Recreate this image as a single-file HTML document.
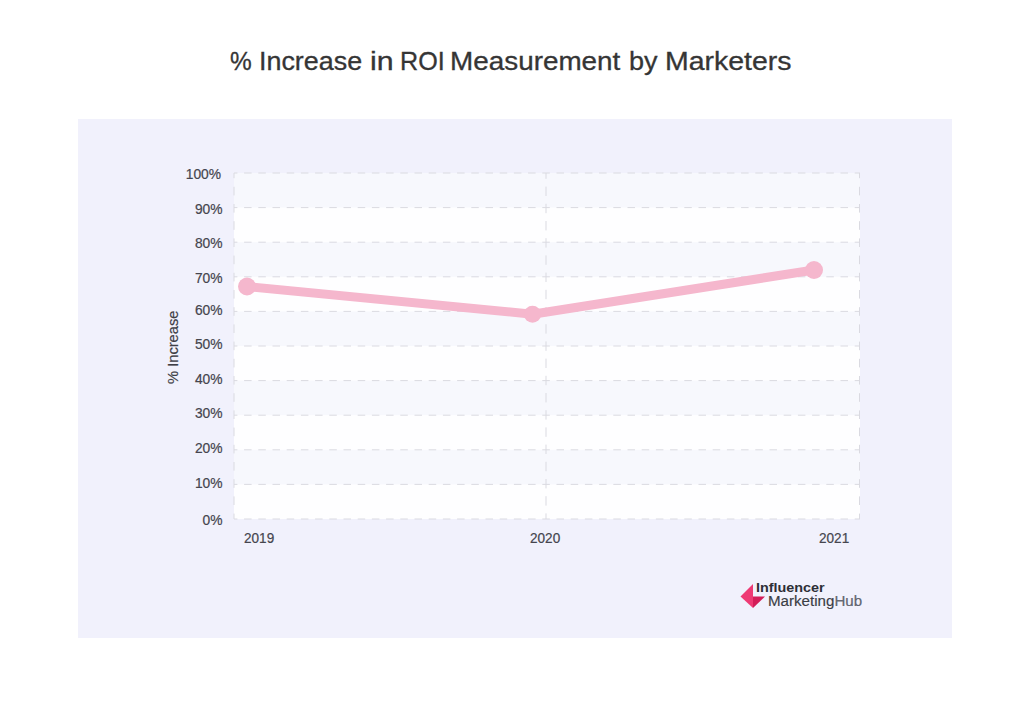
<!DOCTYPE html>
<html><head><meta charset="utf-8">
<style>
html,body{margin:0;padding:0;background:#fff;width:1024px;height:706px;overflow:hidden;}
body{position:relative;font-family:"Liberation Sans",sans-serif;}
.t{position:absolute;white-space:nowrap;line-height:1;}
.tw{position:absolute;top:48.5px;font-size:25px;color:#353535;transform-origin:0 0;-webkit-text-stroke:0.3px #353535;white-space:nowrap;line-height:1;}
.yl{position:absolute;right:801.5px;font-size:13.8px;color:#45454e;-webkit-text-stroke:0.2px #45454e;line-height:1;white-space:nowrap;}
.xl{position:absolute;font-size:14px;color:#45454e;line-height:1;white-space:nowrap;transform:scaleX(0.97);transform-origin:0 0;-webkit-text-stroke:0.2px #45454e;}
</style></head>
<body>
<svg width="1024" height="706" style="position:absolute;left:0;top:0">
  <rect x="78" y="119" width="874" height="519" fill="#f1f1fc"/>
  <!-- bands -->
  <rect x="234" y="173" width="626" height="346" fill="#fefeff"/>
  <rect x="234" y="173" width="626" height="34.6" fill="#f7f8fd"/>
  <rect x="234" y="242.2" width="626" height="34.6" fill="#f7f8fd"/>
  <rect x="234" y="311.4" width="626" height="34.6" fill="#f7f8fd"/>
  <rect x="234" y="380.6" width="626" height="34.6" fill="#f7f8fd"/>
  <rect x="234" y="449.8" width="626" height="34.6" fill="#f7f8fd"/>
  <g stroke="#dadae1" stroke-width="1" fill="none">
  <g stroke-dasharray="7.5 6.7" stroke-dashoffset="4.1">
    <line x1="234" y1="173.0" x2="860" y2="173.0"/>
    <line x1="234" y1="207.6" x2="860" y2="207.6"/>
    <line x1="234" y1="242.2" x2="860" y2="242.2"/>
    <line x1="234" y1="276.8" x2="860" y2="276.8"/>
    <line x1="234" y1="311.4" x2="860" y2="311.4"/>
    <line x1="234" y1="346.0" x2="860" y2="346.0"/>
    <line x1="234" y1="380.6" x2="860" y2="380.6"/>
    <line x1="234" y1="415.2" x2="860" y2="415.2"/>
    <line x1="234" y1="449.8" x2="860" y2="449.8"/>
    <line x1="234" y1="484.4" x2="860" y2="484.4"/>
    <line x1="234" y1="519.0" x2="860" y2="519.0"/>
  </g>
  <g stroke-dasharray="8.6 8.6" stroke-dashoffset="3.4">
    <line x1="234" y1="173" x2="234" y2="519"/>
    <line x1="859.5" y1="173" x2="859.5" y2="519"/>
  </g>
  <line x1="546" y1="173" x2="546" y2="519" stroke-dasharray="9.4 7.8" stroke-dashoffset="3.6"/>
</g>
  <polyline points="247,286.5 532.5,314.2 814,270" fill="none" stroke="#f5b7cd" stroke-width="9" stroke-linejoin="round"/>
  <circle cx="247" cy="286.5" r="9" fill="#f5b7cd"/>
  <circle cx="532.5" cy="314.2" r="8.5" fill="#f5b7cd"/>
  <circle cx="814" cy="270" r="9" fill="#f5b7cd"/>
  <!-- logo -->
  <polygon points="753,584 740.5,596.5 753,608" fill="#ee3a74"/>
  <polygon points="753,596.5 765,596.5 753,608" fill="#d31d58"/>
</svg>
<div class="tw" style="left:229.72px;transform:scaleX(0.9762)">%</div><div class="tw" style="left:258.85px;transform:scaleX(1.0753)">Increase</div><div class="tw" style="left:370.19px;transform:scaleX(1.2118)">in</div><div class="tw" style="left:400.49px;transform:scaleX(1.0050)">ROI</div><div class="tw" style="left:450.17px;transform:scaleX(1.1146)">Measurement</div><div class="tw" style="left:629.42px;transform:scaleX(1.0808)">by</div><div class="tw" style="left:665.02px;transform:scaleX(1.1385)">Marketers</div>
<div class="yl" style="top:168.1px;right:803px">100%</div>
<div class="yl" style="top:202.9px">90%</div>
<div class="yl" style="top:237.2px">80%</div>
<div class="yl" style="top:271.9px">70%</div>
<div class="yl" style="top:303.7px">60%</div>
<div class="yl" style="top:337.8px">50%</div>
<div class="yl" style="top:372.9px">40%</div>
<div class="yl" style="top:406.8px">30%</div>
<div class="yl" style="top:441.7px">20%</div>
<div class="yl" style="top:476.8px">10%</div>
<div class="yl" style="top:513.8px">0%</div>
<div class="xl" style="left:244px;top:531px">2019</div>
<div class="xl" style="left:530px;top:531px">2020</div>
<div class="xl" style="left:819px;top:531px">2021</div>
<div class="t" id="ytitle" style="left:166px;top:384px;font-size:14.7px;color:#3e3e46;transform:rotate(-90deg);-webkit-text-stroke:0.2px #3e3e46;transform-origin:0 0;">% Increase</div>
<div class="t" id="logo1" style="left:756px;top:581.3px;font-size:13.7px;font-weight:bold;color:#2d2f36;transform:scaleX(1.05);transform-origin:0 0;">Influencer</div>
<div class="t" id="logo2" style="left:767.7px;top:594px;font-size:14px;color:#3a3d45;transform:scaleX(1.08);-webkit-text-stroke:0.15px #3a3d45;transform-origin:0 0;">Marketing<span style="color:#666974">Hub</span></div>
</body></html>
